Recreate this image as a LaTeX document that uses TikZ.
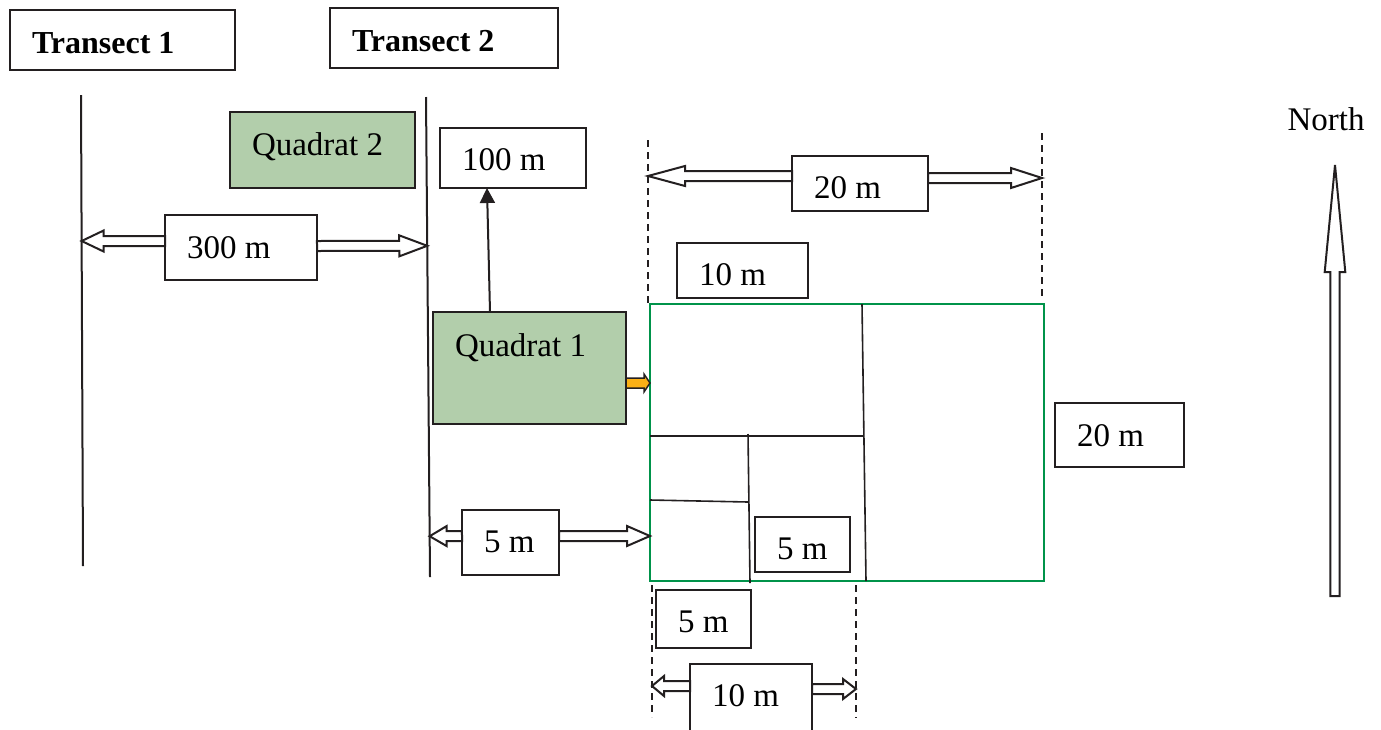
\documentclass[tikz,border=0pt]{standalone}
\usepackage{fontspec}
\setmainfont{Liberation Serif}
\usetikzlibrary{calc,arrows.meta}

\definecolor{ink}{HTML}{231F20}
\definecolor{quadfill}{HTML}{B2CEAB}
\definecolor{plotgreen}{HTML}{00934A}
\definecolor{flag}{HTML}{FBB016}

% label text, left aligned in a box of fixed width
\newcommand{\padtext}[2]{\makebox[#1][l]{#2}}

% hollow block arrow: [opts]{from}{to}{shaft half width}{head half width}{head length}
\newcommand{\blockarrow}[6][]{%
  \draw[blockline,#1] let \p1=(#2), \p2=(#3),
      \n1={atan2(\y2-\y1,\x2-\x1)}, \n2={veclen(\x2-\x1,\y2-\y1)} in
    [shift={(\p1)}, rotate=\n1]
    (0pt,-#4) -- ({\n2*1pt-#6},-#4) -- ({\n2*1pt-#6},-#5) -- ({\n2*1pt},0pt)
    -- ({\n2*1pt-#6},#5) -- ({\n2*1pt-#6},#4) -- (0pt,#4) -- cycle;}

\begin{document}
\begin{tikzpicture}[
    x=1pt, y=-1pt,
    font=\fontsize{33}{38}\selectfont,
    lbl/.style={rectangle, draw=ink, line width=2pt, fill=white, anchor=north west, outer sep=0pt,
      inner xsep=22pt, inner ysep=0pt, text height=#1, text depth=7pt},
    lbl/.default=28pt,
    quad/.style={fill=quadfill},
    tline/.style={draw=ink, line width=2pt},
    sub/.style={draw=ink, line width=1.6pt},
    guide/.style={draw=ink, line width=1.5pt, dash pattern=on 7pt off 5pt},
    blockline/.style={draw=ink, line width=2pt, fill=white, line join=miter}
  ]
  \useasboundingbox (0,0) rectangle (1381,729);

  % transects
  \node[lbl=33pt, minimum height=60pt, font=\fontsize{32}{38}\selectfont\bfseries] (tr1) at (10,10) {\padtext{181pt}{Transect 1}};
  \node[lbl=33pt, minimum height=60pt, font=\fontsize{32}{38}\selectfont\bfseries] (tr2) at (330,8) {\padtext{184pt}{Transect 2}};
  \coordinate (t1a) at (81,95);
  \coordinate (t1b) at (83,566);
  \coordinate (t2a) at (426,97);
  \coordinate (t2b) at (430,577);
  \draw[tline] (t1a) -- (t1b);
  \draw[tline] (t2a) -- (t2b);

  % quadrats
  \node[lbl=17pt, quad, minimum height=76pt] (q2) at (230,112) {\padtext{141pt}{Quadrat 2}};
  \node[lbl=24pt, quad, text depth=48pt, minimum height=112pt] (q1) at (433,312) {\padtext{149pt}{Quadrat 1}};

  % plot with subplots
  \node[draw=plotgreen, line width=2.5pt, anchor=north west, outer sep=0pt,
    minimum width=394pt, minimum height=277pt] (plot) at (650,304) {};
  \draw[sub] (862,304) -- (866,581);
  \draw[sub] (650,436) -- (864,436);
  \draw[sub] (748,434) -- (750,583);
  \draw[sub] (650,500) -- (748,502);

  % guide lines
  \coordinate (g1a) at (648,140);
  \coordinate (g1b) at (648,303);
  \coordinate (g2a) at (1042,133);
  \coordinate (g2b) at (1042,296);
  \coordinate (g3a) at (652,585);
  \coordinate (g3b) at (652,717);
  \coordinate (g4a) at (856,585);
  \coordinate (g4b) at (856,718);
  \draw[guide] (g1a) -- (g1b);
  \draw[guide] (g2a) -- (g2b);
  \draw[guide] (g3a) -- (g3b);
  \draw[guide] (g4a) -- (g4b);

  % distance labels
  \node[lbl=28pt, minimum height=65pt] (d300) at (165,215) {\padtext{108pt}{300 m}};
  \node[lbl=31pt, minimum height=60pt] (d100) at (440,128) {\padtext{102pt}{100 m}};
  \node[lbl=36pt, minimum height=55pt] (t20) at (792,156) {\padtext{92pt}{20 m}};
  \node[lbl=36pt, minimum height=55pt] (t10) at (677,243) {\padtext{87pt}{10 m}};
  \node[lbl=29pt, minimum height=64pt] (r20) at (1055,403) {\padtext{85pt}{20 m}};
  \node[lbl=26pt, minimum height=65pt] (l5) at (462,510) {\padtext{53pt}{5 m}};
  \node[lbl=36pt, minimum height=55pt] (i5) at (755,517) {\padtext{51pt}{5 m}};
  \node[lbl=33pt, minimum height=58pt] (b5) at (656,590) {\padtext{51pt}{5 m}};
  \node[lbl=24pt, minimum height=67pt] (b10) at (690,664) {\padtext{78pt}{10 m}};

  % north
  \node[anchor=base] (north) at (1326,130) {North};
  \coordinate (nbase) at (1335,596);
  \coordinate (ntip) at (1335,165);
  \blockarrow{nbase}{ntip}{4.7pt}{10.3pt}{107pt}

  % measurement arrows
  \blockarrow{d300.west |- 0,241}{$(t1a)!0.31!(t1b)$}{5pt}{10.5pt}{22pt}
  \blockarrow{d300.east |- 0,246}{$(t2a)!0.31!(t2b)$}{5pt}{10.5pt}{28pt}
  \blockarrow{t20.west |- 0,176}{g1a |- 0,176}{5pt}{10pt}{37pt}
  \blockarrow{t20.east |- 0,178}{g2a |- 0,178}{5pt}{10pt}{31pt}
  \blockarrow{l5.west |- 0,536}{$(t2a)!0.915!(t2b)$}{5pt}{10pt}{17pt}
  \blockarrow{l5.east |- 0,536}{plot.west |- 0,536}{5pt}{10pt}{23pt}
  \blockarrow{b10.west |- 0,686}{g3a |- 0,686}{5pt}{10pt}{12pt}
  \blockarrow{b10.east |- 0,689}{g4a |- 0,689}{5pt}{10pt}{13pt}
  \blockarrow[fill=flag, line width=1.5pt]{q1.east |- 0,383}{plot.west |- 0,383}{5pt}{9pt}{6pt}

  % quadrat 1 to 100 m
  \draw[ink, line width=2pt, -{Triangle[length=15pt, width=15pt]}] (q1.north -| 490,0) -- (d100.south -| 487,0);
\end{tikzpicture}
\end{document}
